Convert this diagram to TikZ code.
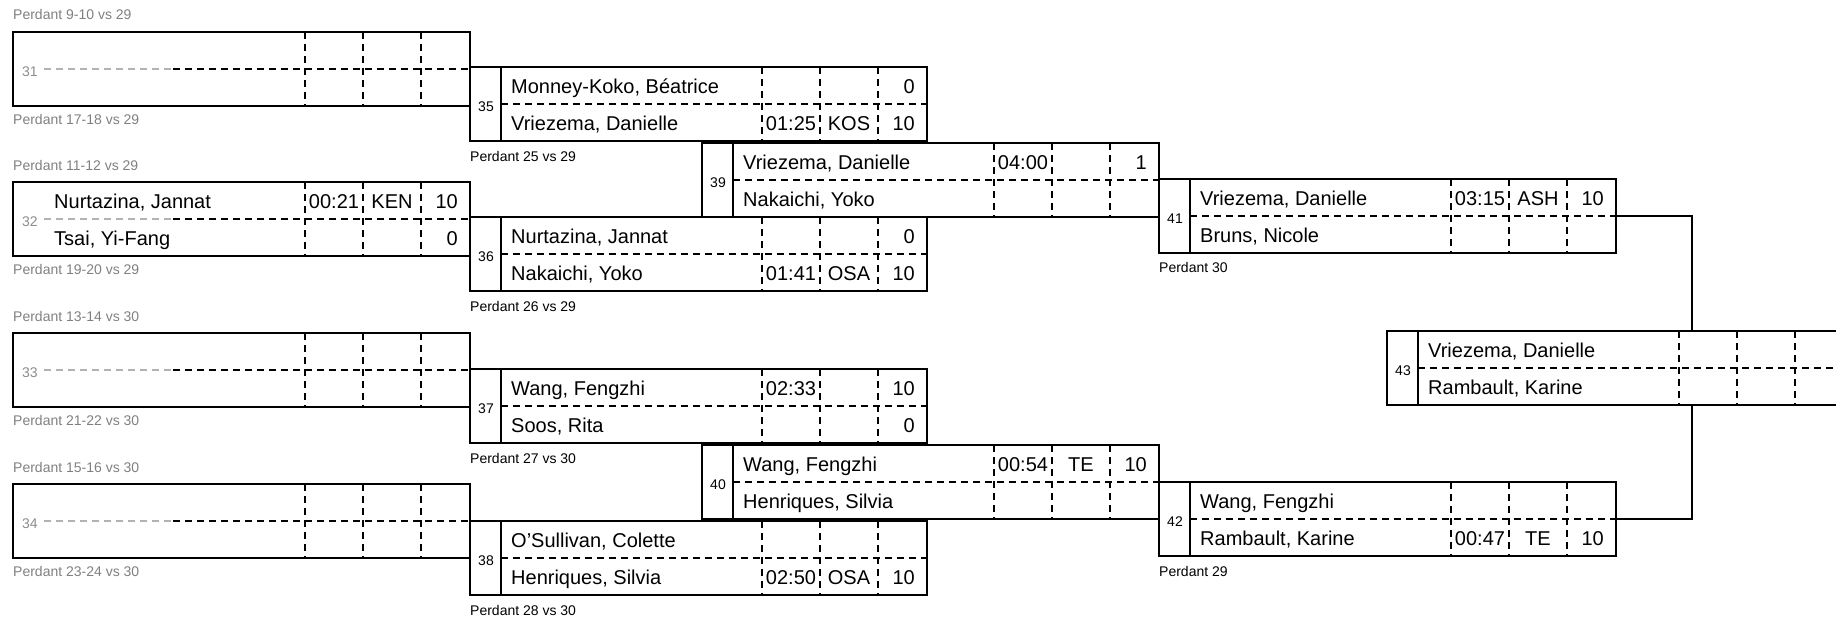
\documentclass[tikz,border=0pt]{standalone}
\usepackage{fontspec}
\setmainfont{Liberation Sans}
\usetikzlibrary{calc}
\tikzset{
  mbox/.style={draw, line width=1.5pt, minimum width=457pt, minimum height=74pt, inner sep=0pt, outer sep=0pt},
  dline/.style={line width=1.1pt, dash pattern=on 7pt off 5pt},
  sline/.style={line width=1.5pt},
  conn/.style={line width=1.5pt},
  nametxt/.style={font=\fontsize{20}{24}\selectfont, inner sep=0pt, anchor=base west},
  restxt/.style={font=\fontsize{20}{24}\selectfont, inner sep=0pt},
  numtxt/.style={font=\fontsize{14}{16}\selectfont, inner sep=0pt},
  lbl/.style={font=\fontsize{14}{16}\selectfont, inner sep=0pt, anchor=base west},
  lblg/.style={lbl, text=black!50}
}
\newcommand\matchbox[4]{%
  \node[mbox, anchor=north west] (#1) at (#2,#3) {};
  \draw[dline] ($(#1.north west)+(292,0)$) -- ($(#1.south west)+(292,0)$);
  \draw[dline] ($(#1.north west)+(350,0)$) -- ($(#1.south west)+(350,0)$);
  \draw[dline] ($(#1.north west)+(408,0)$) -- ($(#1.south west)+(408,0)$);
  \draw[dline] ($(#1.west)+(31,0)$) -- (#1.east);
  \draw[sline] ($(#1.north west)+(31,0)$) -- ($(#1.south west)+(31,0)$);
  \node[numtxt] (#1-num) at ($(#1.west)+(16,3)$) {#4};
}
\newcommand\firstbox[4]{%
  \node[mbox, anchor=north west] (#1) at (#2,#3) {};
  \draw[dline] ($(#1.north west)+(292,0)$) -- ($(#1.south west)+(292,0)$);
  \draw[dline] ($(#1.north west)+(350,0)$) -- ($(#1.south west)+(350,0)$);
  \draw[dline] ($(#1.north west)+(408,0)$) -- ($(#1.south west)+(408,0)$);
  \draw[dline, black!30] ($(#1.west)+(31,0)$) -- ($(#1.west)+(160,0)$);
  \draw[dline] ($(#1.west)+(160,0)$) -- (#1.east);
  \node[numtxt, text=black!45] (#1-num) at ($(#1.west)+(17,3)$) {#4};
}
\newcommand\entry[6]{%
  \pgfmathsetmacro\ry{26+37*(#2-1)}%
  \node[nametxt] (#1-n#2) at ($(#1.north west)+(41,\ry)$) {#3};
  \node[restxt, anchor=base] (#1-t#2) at ($(#1.north west)+(321,\ry)$) {#4};
  \node[restxt, anchor=base] (#1-c#2) at ($(#1.north west)+(379,\ry)$) {#5};
  \node[restxt, anchor=base east] (#1-s#2) at ($(#1.north west)+(445,\ry)$) {#6};
}
\begin{document}
\begin{tikzpicture}[x=1pt,y=-1pt]
\useasboundingbox (0,0) rectangle (1836,618);
\clip (0,0) rectangle (1836,618);

% first column (faint scan)
\firstbox{b31}{13}{32}{31}
\firstbox{b32}{13}{182}{32}
\firstbox{b33}{13}{333}{33}
\firstbox{b34}{13}{484}{34}
\entry{b32}{1}{Nurtazina, Jannat}{00:21}{KEN}{10}
\entry{b32}{2}{Tsai, Yi-Fang}{}{}{0}

\node[lblg] (l31a) at ($(b31.north west)+(0,-12)$) {Perdant 9-10 vs 29};
\node[lblg] (l31b) at ($(b31.south west)+(0,18)$) {Perdant 17-18 vs 29};
\node[lblg] (l32a) at ($(b32.north west)+(0,-12)$) {Perdant 11-12 vs 29};
\node[lblg] (l32b) at ($(b32.south west)+(0,18)$) {Perdant 19-20 vs 29};
\node[lblg] (l33a) at ($(b33.north west)+(0,-12)$) {Perdant 13-14 vs 30};
\node[lblg] (l33b) at ($(b33.south west)+(0,18)$) {Perdant 21-22 vs 30};
\node[lblg] (l34a) at ($(b34.north west)+(0,-12)$) {Perdant 15-16 vs 30};
\node[lblg] (l34b) at ($(b34.south west)+(0,18)$) {Perdant 23-24 vs 30};

% second column
\matchbox{b35}{470}{67}{35}
\entry{b35}{1}{Monney-Koko, Béatrice}{}{}{0}
\entry{b35}{2}{Vriezema, Danielle}{01:25}{KOS}{10}
\matchbox{b36}{470}{217}{36}
\entry{b36}{1}{Nurtazina, Jannat}{}{}{0}
\entry{b36}{2}{Nakaichi, Yoko}{01:41}{OSA}{10}
\matchbox{b37}{470}{369}{37}
\entry{b37}{1}{Wang, Fengzhi}{02:33}{}{10}
\entry{b37}{2}{Soos, Rita}{}{}{0}
\matchbox{b38}{470}{521}{38}
\entry{b38}{1}{O'Sullivan, Colette}{}{}{}
\entry{b38}{2}{Henriques, Silvia}{02:50}{OSA}{10}

\node[lbl] (l35) at ($(b35.south west)+(0,20)$) {Perdant 25 vs 29};
\node[lbl] (l36) at ($(b36.south west)+(0,20)$) {Perdant 26 vs 29};
\node[lbl] (l37) at ($(b37.south west)+(0,20)$) {Perdant 27 vs 30};
\node[lbl] (l38) at ($(b38.south west)+(0,20)$) {Perdant 28 vs 30};

% third column
\matchbox{b39}{702}{143}{39}
\entry{b39}{1}{Vriezema, Danielle}{04:00}{}{1}
\entry{b39}{2}{Nakaichi, Yoko}{}{}{}
\matchbox{b40}{702}{445}{40}
\entry{b40}{1}{Wang, Fengzhi}{00:54}{TE}{10}
\entry{b40}{2}{Henriques, Silvia}{}{}{}

% fourth column
\matchbox{b41}{1159}{179}{41}
\entry{b41}{1}{Vriezema, Danielle}{03:15}{ASH}{10}
\entry{b41}{2}{Bruns, Nicole}{}{}{}
\matchbox{b42}{1159}{482}{42}
\entry{b42}{1}{Wang, Fengzhi}{}{}{}
\entry{b42}{2}{Rambault, Karine}{00:47}{TE}{10}
\node[lbl] (l41) at ($(b41.south west)+(0,19)$) {Perdant 30};
\node[lbl] (l42) at ($(b42.south west)+(0,20)$) {Perdant 29};

% final
\matchbox{b43}{1387}{331}{43}
\entry{b43}{1}{Vriezema, Danielle}{}{}{}
\entry{b43}{2}{Rambault, Karine}{}{}{}

% connectors
\draw[conn] (b31.east) -- (b35.north west);
\draw[conn] (b32.east) -- (b36.north west);
\draw[conn] (b33.east) -- (b37.north west);
\draw[conn] (b34.east) -- (b38.north west);
\draw[conn] (b35.south east) -- (b35.south east |- b39.north);
\draw[conn] (b36.north east) -- (b36.north east |- b39.south);
\draw[conn] (b37.south east) -- (b37.south east |- b40.north);
\draw[conn] (b38.north east) -- (b38.north east |- b40.south);
\draw[conn] (b41.east) -| ($(b43.north west)+(305,0)$);
\draw[conn] (b42.east) -| ($(b43.south west)+(305,0)$);
\end{tikzpicture}
\end{document}
